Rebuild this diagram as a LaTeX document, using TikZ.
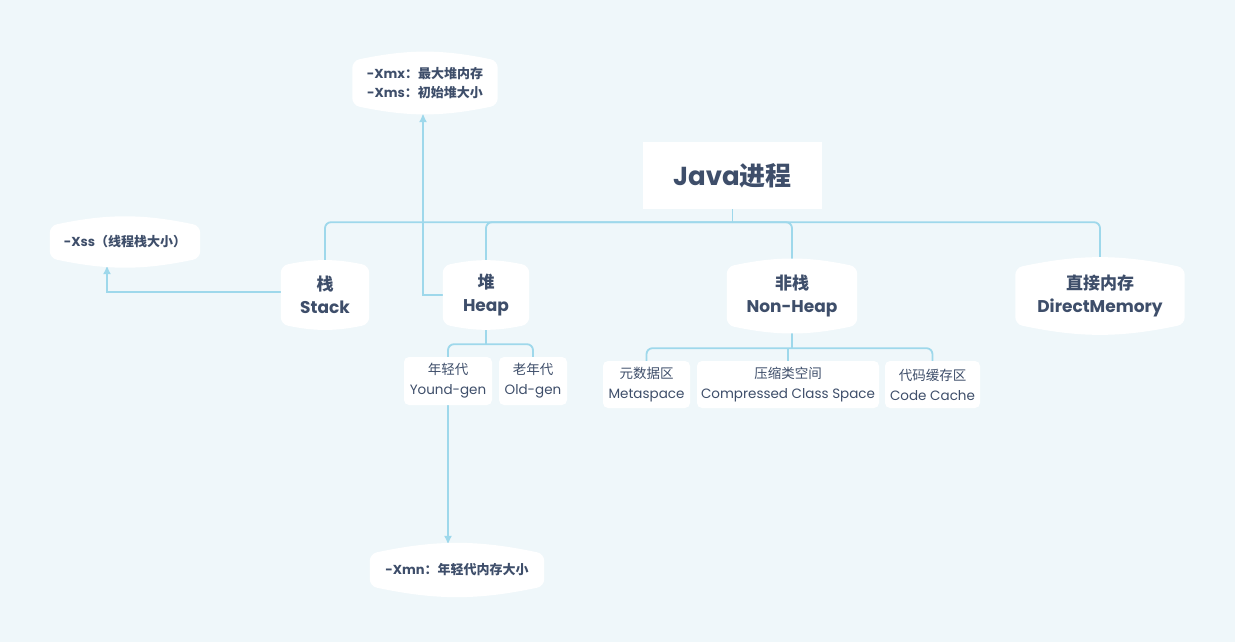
\documentclass[tikz,border=0pt]{standalone}
\usepackage{fontspec}
\setmainfont{Poppins}
\newfontfamily\cjk{Noto Sans CJK SC}
\usetikzlibrary{arrows.meta,backgrounds}
\definecolor{bgColor}{HTML}{EFF7FA}
\definecolor{penColor}{HTML}{3E4E6A}
\definecolor{lineColor}{HTML}{9ED8EB}
\tikzset{>={Latex[length=9pt,width=8pt]},
  link/.style={lineColor,line width=1.8pt,rounded corners=6pt},
  mainbox/.style={text=penColor,font=\bfseries\fontsize{17}{23}\selectfont,align=center,inner sep=0pt},
  subbox/.style={fill=white,rounded corners=5pt,text=penColor,font=\fontsize{13.5}{20}\selectfont,align=center,inner sep=0pt},
  notebox/.style={text=penColor,font=\bfseries\fontsize{13}{19}\selectfont,align=center,inner sep=0pt}}

% white barrel shape behind a node
\newcommand\bulge[1]{%
  \fill[white,rounded corners=7pt] (#1.north west) to[bend left=12] (#1.north east)
    -- (#1.south east) to[bend left=12] (#1.south west) -- cycle;}

\begin{document}
\begin{tikzpicture}[x=1pt,y=-1pt]
  \useasboundingbox (0,0) rectangle (1235,642);

  % top
  \node[fill=white,minimum width=179pt,minimum height=67pt,text=penColor,
    font=\bfseries\fontsize{26}{30}\selectfont] (java) at (732.5,175.5) {Java\cjk{进程}};

  % main parts
  \node[mainbox,minimum width=88pt,minimum height=58pt] (stack) at (325,295) {\cjk{栈}\\Stack};
  \node[mainbox,minimum width=86pt,minimum height=58pt] (heap) at (486,295) {\cjk{堆}\\Heap};
  \node[mainbox,minimum width=130pt,minimum height=58pt] (nonheap) at (792,296) {\cjk{非栈}\\Non-Heap};
  \node[mainbox,minimum width=169pt,minimum height=56pt] (direct) at (1100,296) {\cjk{直接内存}\\DirectMemory};

  % notes
  \node[notebox,minimum width=145pt,minimum height=44pt] (xmx) at (425,83) {-Xmx\cjk{：最大堆内存}\\-Xms\cjk{：初始堆大小}};
  \node[notebox,minimum width=150pt,minimum height=32pt] (xss) at (125,242) {-Xss\cjk{（线程栈大小）}};
  \node[notebox,minimum width=174pt,minimum height=32pt] (xmn) at (457,570) {-Xmn\cjk{：年轻代内存大小}};

  % heap
  \node[subbox,minimum width=88pt,minimum height=48pt] (young) at (448,381) {\cjk{年轻代}\\Yound-gen};
  \node[subbox,minimum width=68pt,minimum height=48pt] (old) at (533,381) {\cjk{老年代}\\Old-gen};

  % non-heap
  \node[subbox,minimum width=87pt,minimum height=47pt] (meta) at (646.5,384.5) {\cjk{元数据区}\\Metaspace};
  \node[subbox,minimum width=182pt,minimum height=47pt] (ccs) at (788,384.5) {\cjk{压缩类空间}\\Compressed Class Space};
  \node[subbox,minimum width=95pt,minimum height=47pt] (codecache) at (932.5,384.5) {\cjk{代码缓存区}\\Code Cache};

  \begin{scope}[on background layer]
    \fill[bgColor] (0,0) rectangle (1235,642);

    \draw[link] (java.south) -- ++(0,13) coordinate (bus);
    \draw[link] (stack.north) |- (bus) -| (direct.north);
    \draw[link] (heap.north) |- (bus);
    \draw[link] (nonheap.north) |- (bus);

    \draw[link] (heap.south) -- ++(0,20) coordinate (hbus);
    \draw[link] (young.north) |- (hbus) -| (old.north);

    \draw[link] (nonheap.south) -- ++(0,23) coordinate (nbus);
    \draw[link] (meta.north) |- (nbus) -| (codecache.north);
    \draw[link] (ccs.north) -- (ccs.north |- nbus);

    \draw[link,->,rounded corners=0pt,shorten >=8pt] (heap.west) -| ([xshift=-2pt]xmx.south);
    \draw[link,->,rounded corners=0pt,shorten >=7pt] ([yshift=3pt]stack.west) -| ([xshift=-18pt]xss.south);
    \draw[link,->,shorten >=9pt] (young.south) -- (young.south |- xmn.north);

    \bulge{stack}
    \bulge{heap}
    \bulge{nonheap}
    \bulge{direct}
    \bulge{xmx}
    \bulge{xss}
    \bulge{xmn}
  \end{scope}
\end{tikzpicture}
\end{document}
